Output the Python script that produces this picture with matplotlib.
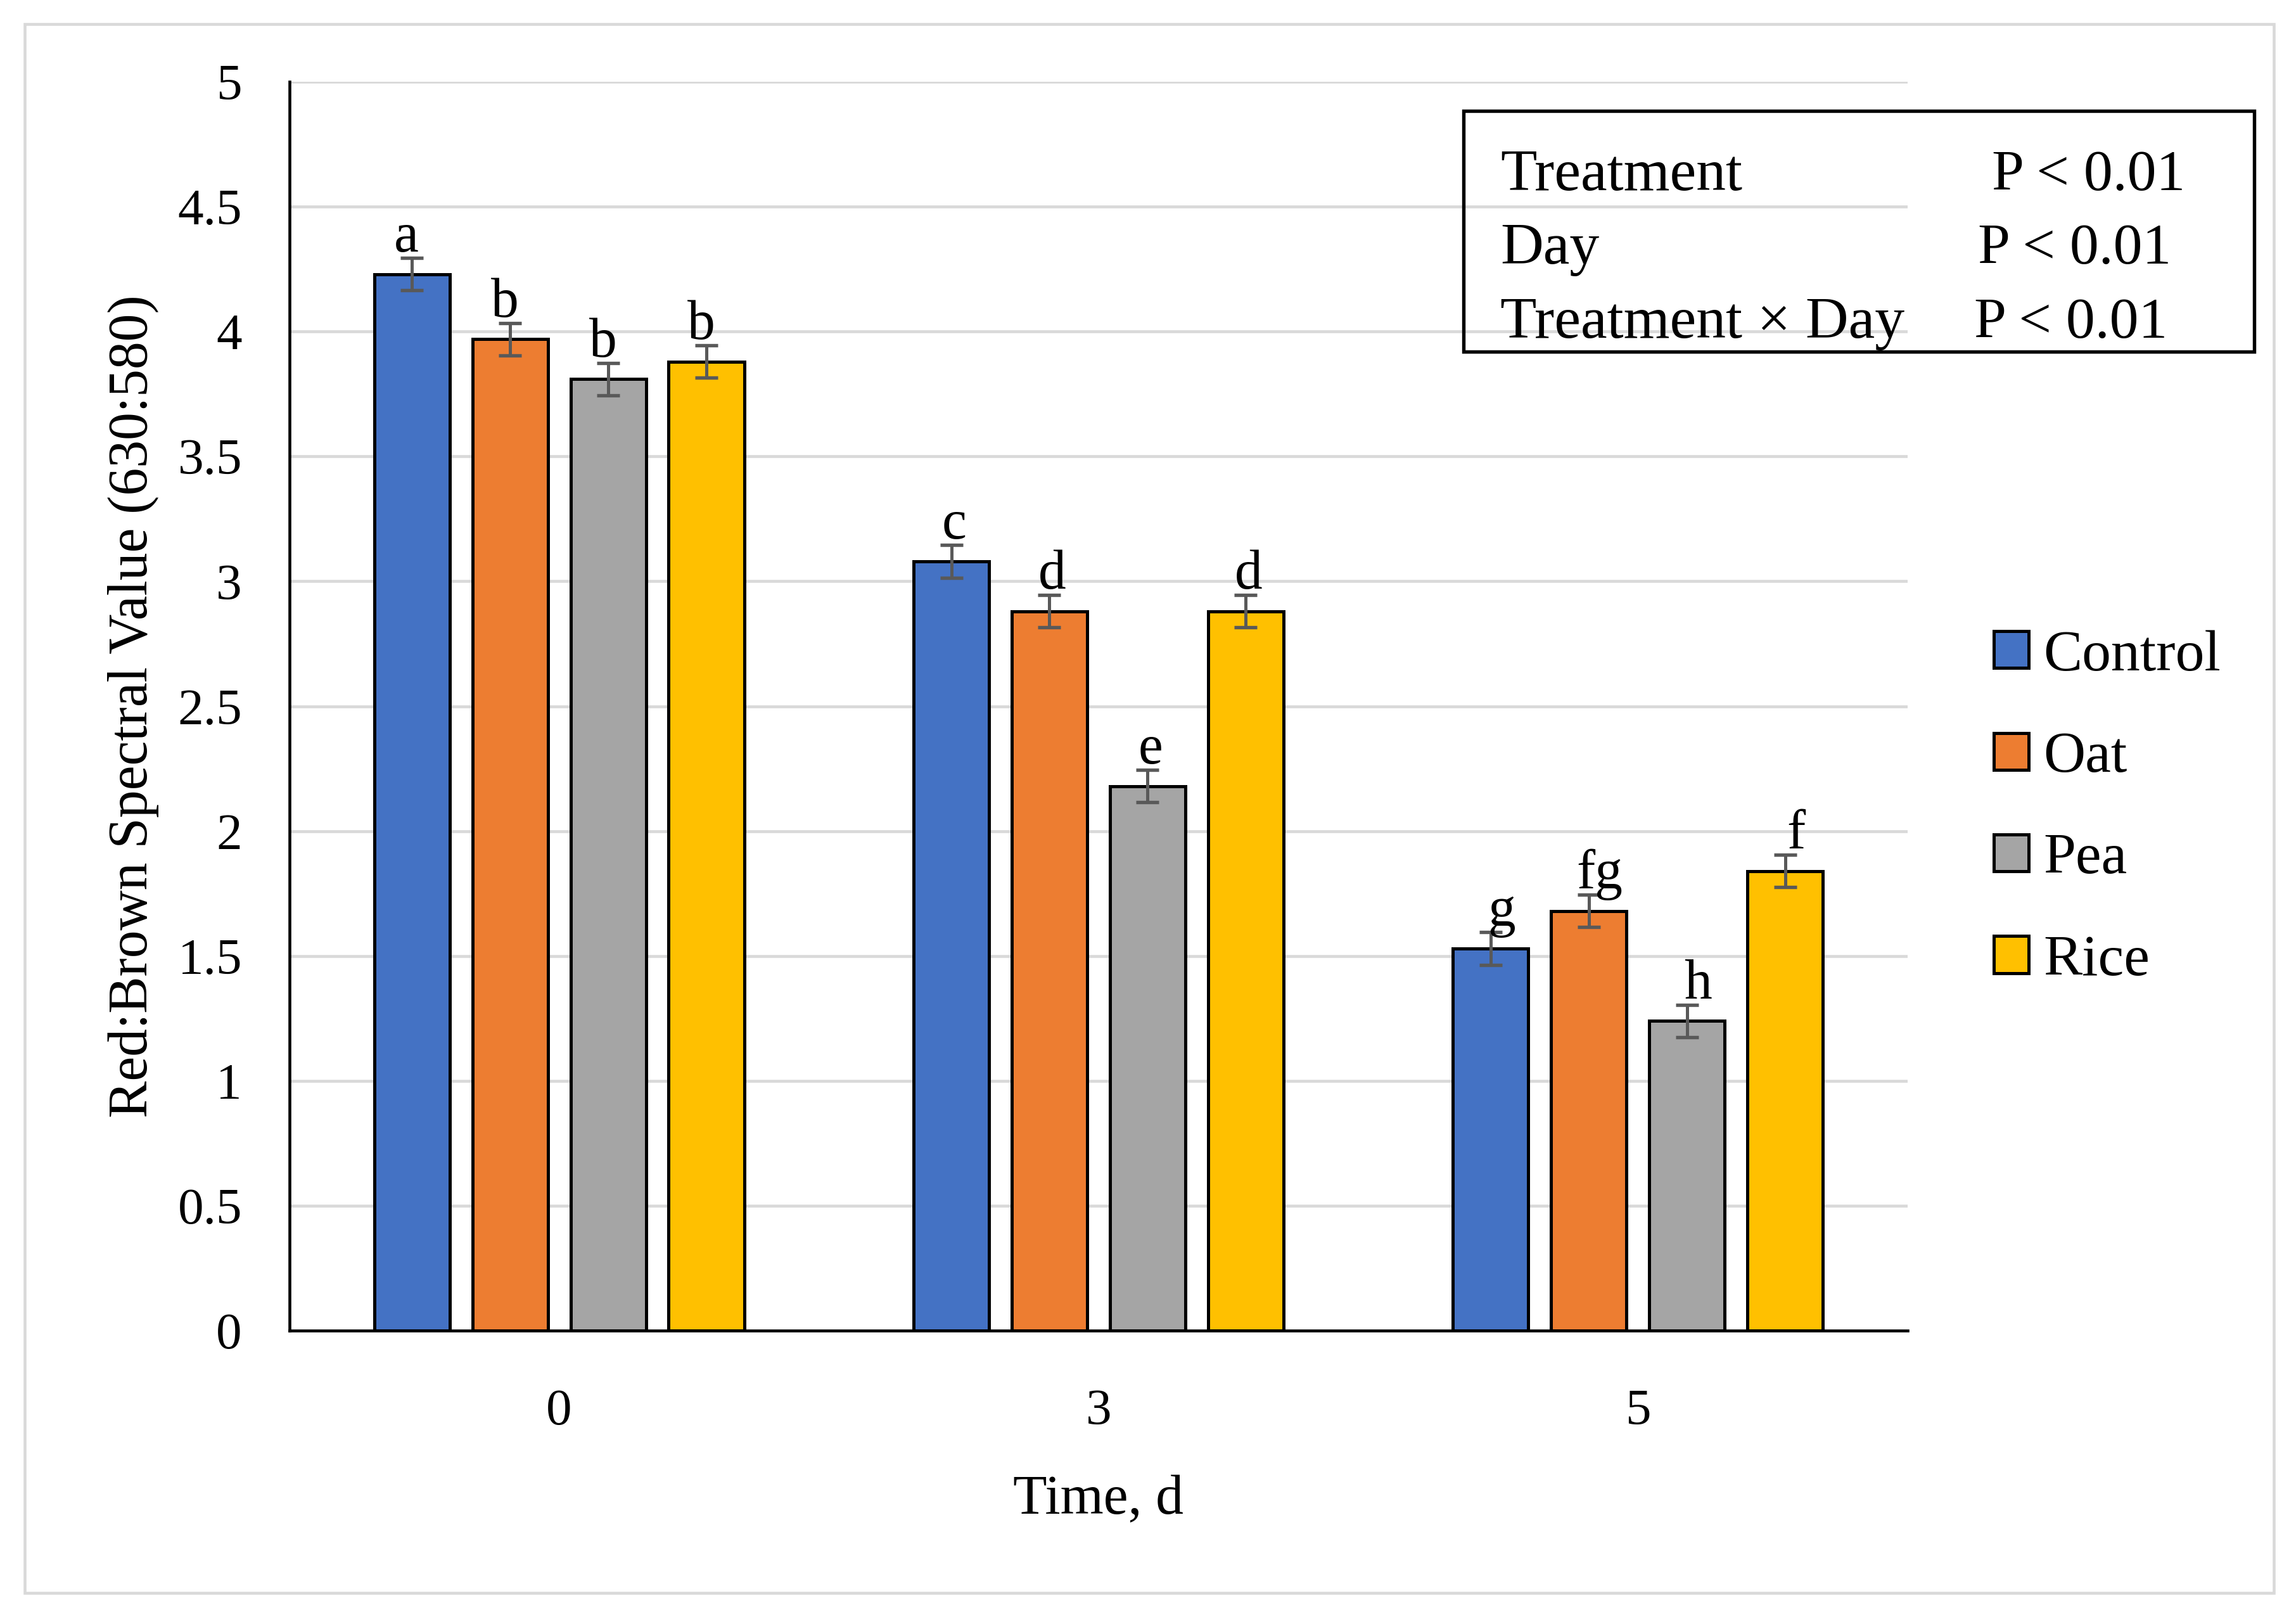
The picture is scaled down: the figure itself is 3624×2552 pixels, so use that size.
import matplotlib.pyplot as plt
import numpy as np
from matplotlib.patches import Rectangle

plt.rcParams['font.family'] = ['Liberation Serif', 'DejaVu Serif']

days = ['0', '3', '5']
treatments = ['Control', 'Oat', 'Pea', 'Rice']
colors = ['#4472c4', '#ed7d31', '#a5a5a5', '#ffc000']

control = [4.23, 3.08, 1.53]
oat = [3.97, 2.88, 1.68]
pea = [3.81, 2.18, 1.24]
rice = [3.88, 2.88, 1.84]

control_err = [0.065, 0.065, 0.065]
oat_err = [0.065, 0.065, 0.065]
pea_err = [0.065, 0.065, 0.065]
rice_err = [0.065, 0.065, 0.065]

control_letters = ['a', 'c', 'g']
oat_letters = ['b', 'd', 'fg']
pea_letters = ['b', 'e', 'h']
rice_letters = ['b', 'd', 'f']

stat_terms = ['Treatment', 'Day', 'Treatment \u00d7 Day']
stat_p = ['P < 0.01', 'P < 0.01', 'P < 0.01']

values = [control, oat, pea, rice]
errors = [control_err, oat_err, pea_err, rice_err]
letters = [control_letters, oat_letters, pea_letters, rice_letters]

fig = plt.figure(figsize=(12.08, 8.5067), dpi=300)
ax = fig.add_axes([0.1261, 0.1771, 0.8308 - 0.1261, 0.9494 - 0.1771])

x = np.arange(len(days))
width = 0.14
step = 0.182
# small sideways nudge of the letters, per day group
letter_shift = [-0.01, 0.005, 0.02]

for i, name in enumerate(treatments):
    pos = x + (i - 1.5) * step
    ax.bar(pos, values[i], width, color=colors[i], edgecolor='black',
           linewidth=1.2, label=name, zorder=2)
    ax.errorbar(pos, values[i], yerr=errors[i], fmt='none', ecolor='#595959',
                elinewidth=1.2, capsize=4.4, capthick=1.3, zorder=3)
    for j in range(len(days)):
        ax.text(pos[j] + letter_shift[j], values[i][j] + errors[i][j] + 0.025,
                letters[i][j], ha='center', va='baseline', fontsize=21, zorder=4)

ax.set_xlim(-0.5, 2.5)
ax.set_ylim(0, 5)
ax.set_yticks(np.arange(0, 5.01, 0.5))
ax.set_yticklabels(['0', '0.5', '1', '1.5', '2', '2.5', '3', '3.5', '4', '4.5', '5'])
ax.set_xticks(x)
ax.set_xticklabels(days)
ax.tick_params(axis='both', length=0, labelsize=19.5)
ax.tick_params(axis='y', pad=18)
ax.tick_params(axis='x', pad=22)

ax.yaxis.grid(True, color='#d9d9d9', linewidth=1.1)
ax.set_axisbelow(True)
for side in ['top', 'right']:
    ax.spines[side].set_visible(False)
ax.spines['left'].set_linewidth(1.1)
ax.spines['bottom'].set_linewidth(1.1)

ax.set_xlabel('Time, d', fontsize=21, labelpad=15)
ax.set_ylabel('Red:Brown Spectral Value (630:580)', fontsize=21, labelpad=7)

ax.legend(loc='center left', bbox_to_anchor=(0.8684, 0.5), bbox_transform=fig.transFigure,
          frameon=False, fontsize=22, handlelength=0.6, handleheight=0.6,
          handletextpad=0.25, labelspacing=0.85, borderpad=0, borderaxespad=0)

# stats box
fig.patches.append(Rectangle((0.6374, 0.7825), 0.9818 - 0.6374, 0.9314 - 0.7825,
                             transform=fig.transFigure, fill=False,
                             edgecolor='black', linewidth=1.3))
row_y = [0.8824, 0.8370, 0.7911]
p_x = [3144 / 3624, 3122 / 3624, 3116 / 3624]
for k in range(len(stat_terms)):
    fig.text(2368 / 3624, row_y[k], stat_terms[k], fontsize=22.5, va='baseline')
    fig.text(p_x[k], row_y[k], stat_p[k], fontsize=22, va='baseline')

# light outer frame
fig.patches.append(Rectangle((0.0108, 0.0149), 0.9903 - 0.0108, 0.9851 - 0.0149,
                             transform=fig.transFigure, fill=False,
                             edgecolor='#d9d9d9', linewidth=1.1))

fig.savefig('out.png', dpi=300)
